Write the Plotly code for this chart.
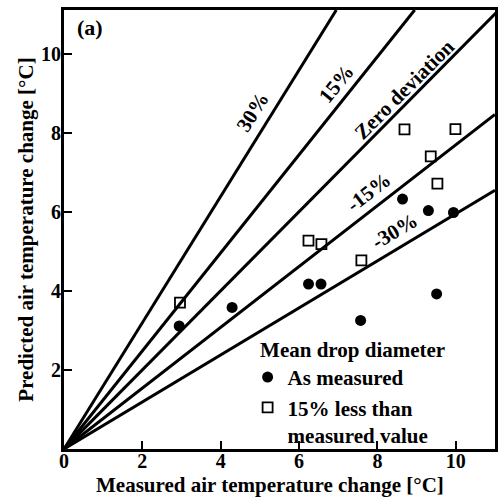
import plotly.graph_objects as go

# ---- data ----
meas_x = [2.94, 4.29, 6.24, 6.56, 7.57, 9.51, 8.64, 9.30, 9.94]
meas_y = [3.11, 3.58, 4.17, 4.17, 3.25, 3.92, 6.32, 6.03, 5.98]

less_x = [2.96, 6.24, 6.57, 7.59, 8.69, 9.99, 9.36, 9.53]
less_y = [3.70, 5.27, 5.18, 4.77, 8.08, 8.09, 7.40, 6.71]

# deviation reference lines (start and end points)
line_names = ["30%", "15%", "Zero deviation", "-15%", "-30%"]
line_x = [[0, 6.95], [0, 8.95], [0, 11.2], [0, 11.0], [0, 11.0]]
line_y = [[0, 11.1], [0, 11.1], [0, 11.2], [0, 8.46], [0, 6.54]]

x_ticks = [0, 2, 4, 6, 8, 10]
y_ticks = [2, 4, 6, 8, 10]

FONT = "Liberation Serif"

fig = go.Figure()

for nm, lx, ly in zip(line_names, line_x, line_y):
    fig.add_trace(go.Scatter(x=lx, y=ly, mode="lines", name=nm,
                             line=dict(color="black", width=3),
                             showlegend=False, hoverinfo="skip"))

fig.add_trace(go.Scatter(x=meas_x, y=meas_y, mode="markers", name="As measured",
                         marker=dict(symbol="circle", size=11, color="black")))
fig.add_trace(go.Scatter(x=less_x, y=less_y, mode="markers",
                         name="15% less than<br>measured value",
                         marker=dict(symbol="square-open", size=10, color="black",
                                     line=dict(width=1.8, color="black"))))

# line labels
labels = [
    ("30%", 4.82, 8.51, -58),
    ("15%", 6.94, 9.24, -51),
    ("Zero deviation", 8.70, 9.09, -45),
    ("-15%", 7.78, 6.50, -37.6),
    ("-30%", 8.44, 5.52, -30.6),
]
for txt, ax, ay, ang in labels:
    fig.add_annotation(x=ax, y=ay, text=txt, textangle=ang, showarrow=False,
                       font=dict(family=FONT, size=21, color="black", weight="bold"))

fig.add_annotation(x=0.66, y=10.66, text="(a)", showarrow=False,
                   font=dict(family=FONT, size=22, color="black", weight="bold"))

# x-axis title
fig.add_annotation(x=0.478, y=-0.082, xref="paper", yref="paper",
                   xanchor="center", yanchor="middle", showarrow=False,
                   text="Measured air temperature change [°C]",
                   font=dict(family=FONT, size=21, color="black", weight="bold"))

fig.update_layout(
    width=500, height=499,
    margin=dict(l=64, r=2, t=10, b=50),
    paper_bgcolor="white", plot_bgcolor="white",
    font=dict(family=FONT, size=20, color="black", weight="bold"),
    legend=dict(x=0.426, y=0.272, xanchor="left", yanchor="top",
                bgcolor="rgba(0,0,0,0)", valign="top",
                title=dict(text="&nbsp;&nbsp;Mean drop diameter",
                           font=dict(family=FONT, size=21, weight="bold")),
                font=dict(family=FONT, size=21, weight="bold"),
                itemwidth=30, tracegroupgap=0),
    xaxis=dict(range=[0, 11], tickvals=x_ticks, ticks="inside", ticklen=8,
               tickwidth=2, tickcolor="black", showline=True, linewidth=3,
               linecolor="black", mirror=True, showgrid=False, zeroline=False,
               ticklabelstandoff=-8,
               tickfont=dict(family=FONT, size=20, weight="bold")),
    yaxis=dict(range=[0, 11.1], tickvals=y_ticks, ticks="inside", ticklen=8,
               tickwidth=2, tickcolor="black", showline=True, linewidth=3,
               linecolor="black", mirror=True, showgrid=False, zeroline=False,
               ticklabelstandoff=-4,
               title=dict(text="Predicted air temperature change [°C]",
                          font=dict(family=FONT, size=21, weight="bold"),
                          standoff=2),
               tickfont=dict(family=FONT, size=20, weight="bold")),
)

fig.write_html("out.html")
